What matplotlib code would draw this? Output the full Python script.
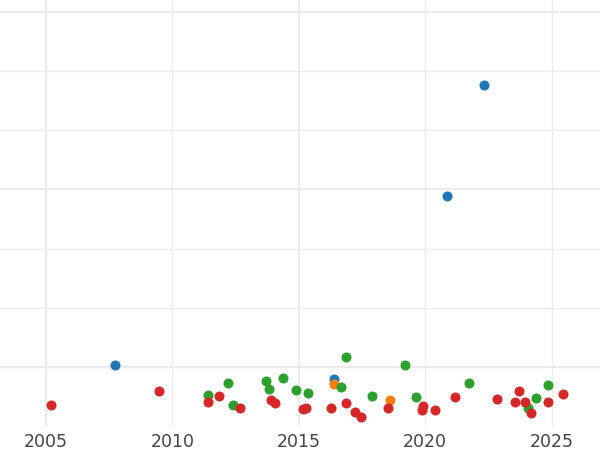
import matplotlib
matplotlib.use('Agg')
import matplotlib.pyplot as plt

# values (year, value)
blue_x = [2007.75, 2020.86, 2022.34, 2016.40]
blue_y = [10.27, 38.94, 57.64, 7.97]

orange_x = [2016.41, 2018.60]
orange_y = [7.13, 4.36]

green_x = [2011.40, 2012.21, 2012.42, 2013.71, 2013.83, 2014.37, 2014.88, 2015.36,
           2016.86, 2016.68, 2017.90, 2019.19, 2019.65, 2021.74, 2024.05, 2024.37, 2024.84]
green_y = [5.27, 7.23, 3.58, 7.64, 6.33, 8.14, 6.11, 5.54,
           11.69, 6.62, 5.10, 10.34, 4.93, 7.30, 2.96, 4.65, 7.01]

red_x = [2005.20, 2009.48, 2011.40, 2011.85, 2012.68, 2013.89, 2014.05, 2015.16, 2015.28,
         2016.29, 2016.86, 2017.23, 2017.45, 2018.52, 2019.92, 2019.86, 2020.40, 2021.18,
         2022.84, 2023.70, 2023.54, 2023.95, 2024.19, 2024.84, 2025.45]
red_y = [3.63, 6.00, 4.14, 5.15, 3.07, 4.31, 3.85, 2.91, 3.07,
         3.07, 3.92, 2.40, 1.49, 3.07, 3.34, 2.74, 2.67, 4.93,
         4.53, 5.88, 4.14, 4.02, 2.16, 4.02, 5.44]

x_ticks = [2005, 2010, 2015, 2020, 2025]
y_major = [10, 40, 70]
y_minor = [20, 30, 50, 60]

fig = plt.figure(figsize=(6, 4.5), dpi=100)
ax = fig.add_axes([0, 24 / 450, 1, 426 / 450])

dot = dict(s=52, linewidths=0, zorder=3)
ax.scatter(blue_x, blue_y, color='#1f77b4', **dot)
ax.scatter(orange_x, orange_y, color='#ff7f0e', **dot)
ax.scatter(green_x, green_y, color='#2ca02c', **dot)
ax.scatter(red_x, red_y, color='#d62728', **dot)

ax.set_xlim(2003.19, 2026.91)
ax.set_ylim(0, 72)

ax.set_xticks(x_ticks)
ax.set_xticklabels([str(t) for t in x_ticks])
ax.set_yticks(y_major)
ax.set_yticks(y_minor, minor=True)
ax.set_yticklabels([])
ax.tick_params(axis='both', which='both', length=0)
ax.tick_params(axis='x', labelsize=12.5, labelcolor='#444444', pad=5)

for s in ax.spines.values():
    s.set_visible(False)

ax.set_axisbelow(True)
ax.grid(True, which='major', color='#ebebeb', linewidth=1.6)
ax.grid(True, which='minor', axis='y', color='#ebebeb', linewidth=1.0)
# only 2005 and 2015 vertical lines are heavy in the reference
for t, gl in zip(x_ticks, ax.get_xgridlines()):
    gl.set_linewidth(1.6 if t in (2005, 2015) else 1.0)

fig.savefig('out.png', dpi=100)
